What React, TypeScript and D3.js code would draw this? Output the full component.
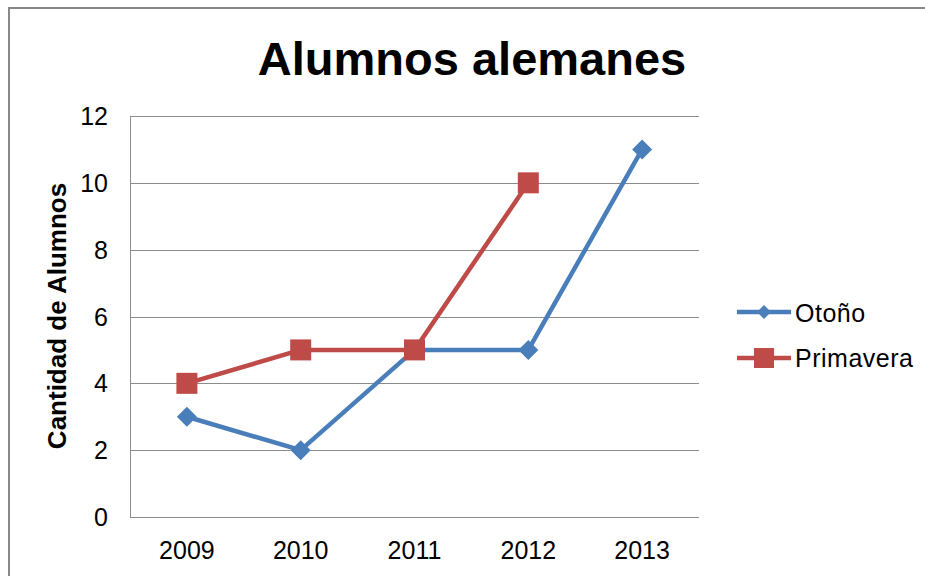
import React from 'react';
import * as d3 from 'd3';

const years = ['2009', '2010', '2011', '2012', '2013'];
const otono = [3, 2, 5, 5, 11];
const primavera = [4, 5, 5, 10, null];
const yTicks = [0, 2, 4, 6, 8, 10, 12];

const W = 925;
const H = 576;
const plot = { left: 130, right: 699, top: 116, bottom: 517 };
const font = '"Liberation Sans", Arial, sans-serif';
const BLUE = '#4a7ebb';
const RED = '#be4b48';

const App = () => {
  const x = d3.scaleBand().domain(years).range([plot.left, plot.right]).padding(0);
  const y = d3.scaleLinear().domain([0, 12]).range([plot.bottom, plot.top]);
  const cx = (d: string) => (x(d) as number) + x.bandwidth() / 2;

  const line = d3.line<{ year: string; v: number | null }>()
    .defined(d => d.v != null)
    .x(d => cx(d.year))
    .y(d => y(d.v as number));

  const otonoPts = years.map((year, i) => ({ year, v: otono[i] }));
  const primPts = years.map((year, i) => ({ year, v: primavera[i] }));

  const diamond = (px: number, py: number, r: number) =>
    `M${px},${py - r}L${px + r},${py}L${px},${py + r}L${px - r},${py}Z`;

  return (
    <svg width={W} height={H} style={{ position: 'absolute', left: 0, top: 0 }} fontFamily={font}>
      <rect x={0} y={0} width={W} height={H} fill="white" />
      {/* chart border */}
      <rect x={9} y={8} width={W + 20} height={H + 20} fill="none" stroke="#888" strokeWidth={2} />

      <text x={472} y={75} textAnchor="middle" fontSize={47} fontWeight="bold" fill="#000">
        Alumnos alemanes
      </text>

      {/* gridlines */}
      {yTicks.map(t => (
        <line key={t} x1={plot.left} x2={plot.right} y1={Math.round(y(t)) + 0.5} y2={Math.round(y(t)) + 0.5}
          stroke="#8c8c8c" strokeWidth={1} />
      ))}
      <line x1={plot.left + 0.5} x2={plot.left + 0.5} y1={plot.top} y2={plot.bottom} stroke="#8c8c8c" strokeWidth={1} />

      {yTicks.map(t => (
        <text key={t} x={108} y={y(t) + 9} textAnchor="end" fontSize={25} fill="#000">{t}</text>
      ))}
      {years.map(d => (
        <text key={d} x={cx(d)} y={559} textAnchor="middle" fontSize={25} fill="#000">{d}</text>
      ))}

      <text transform={`translate(66,316) rotate(-90)`} textAnchor="middle" fontSize={26} fontWeight="bold" fill="#000">
        Cantidad de Alumnos
      </text>

      {/* series */}
      <path d={line(otonoPts) || ''} fill="none" stroke={BLUE} strokeWidth={4.5} strokeLinejoin="round" />
      {otonoPts.map(d => (
        <path key={d.year} d={diamond(cx(d.year), y(d.v as number), 10)} fill={BLUE} />
      ))}
      <path d={line(primPts) || ''} fill="none" stroke={RED} strokeWidth={4.5} strokeLinejoin="round" />
      {primPts.filter(d => d.v != null).map(d => (
        <rect key={d.year} x={cx(d.year) - 10.5} y={y(d.v as number) - 10.5} width={21} height={21} fill={RED} />
      ))}

      {/* legend */}
      <line x1={737} x2={791} y1={312} y2={312} stroke={BLUE} strokeWidth={4.5} />
      <path d={diamond(764, 312, 7)} fill={BLUE} />
      <text x={795} y={322} fontSize={25} letterSpacing={0.5} fill="#000">Otoño</text>
      <line x1={737} x2={791} y1={358} y2={358} stroke={RED} strokeWidth={4.5} />
      <rect x={754} y={348} width={20} height={20} fill={RED} />
      <text x={795} y={367} fontSize={25} letterSpacing={0.5} fill="#000">Primavera</text>
    </svg>
  );
};

export default App;
